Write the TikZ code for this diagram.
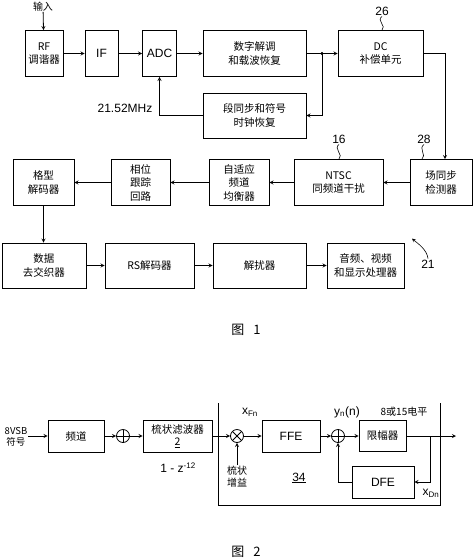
\documentclass[tikz,border=0pt]{standalone}
\usepackage{fontspec}
\setmainfont{Liberation Sans}
\newfontfamily\cjk{Noto Sans CJK SC}
\usetikzlibrary{calc}
\tikzset{
  blk/.style={draw, line width=0.8pt, inner sep=0pt, align=center,
    font=\cjk\fontsize{10.5}{13.5}\selectfont},
  lat/.style={font=\fontsize{12}{14}\selectfont},
  sumnode/.style={draw, circle, line width=0.8pt, minimum size=13pt, inner sep=0pt,
    path picture={\draw[line width=0.8pt] (path picture bounding box.north) -- (path picture bounding box.south)
      (path picture bounding box.west) -- (path picture bounding box.east);}},
  mulnode/.style={draw, circle, line width=0.8pt, minimum size=13pt, inner sep=0pt,
    path picture={\draw[line width=0.8pt] (path picture bounding box.north west) -- (path picture bounding box.south east)
      (path picture bounding box.south west) -- (path picture bounding box.north east);}},
  wire/.style={line width=0.8pt, -stealth},
  lead/.style={line width=0.6pt},
  lbl/.style={inner sep=1pt, font=\fontsize{12}{14}\selectfont},
  zlbl/.style={inner sep=1pt, align=center, font=\cjk\fontsize{10}{12}\selectfont},
}
\newcommand{\Fig}{\cjk\fontsize{13}{15}\selectfont 图}

\begin{document}
\begin{tikzpicture}[x=1pt,y=-1pt]
%\draw[help lines,step=20] (0,0) grid (474,558);
\useasboundingbox (0,0) rectangle (474,558);

%%%%%%%%%%%%%%%%%%%%%%%%%%%%%%%%%%%%%%%%%%%%%%%%%%%%%%%%%%%%%% fig-1
\coordinate (A) at (0,0);

\node[zlbl,inner sep=0.5pt] (inp) at ($(A)+(43,6.5)$) {输入};

\node[blk,minimum width=38,minimum height=46] (rf) at ($(A)+(44,53.5)$) {RF\\调谐器};
\node[blk,lat,minimum width=33,minimum height=46] (ifb) at ($(A)+(101.5,53.5)$) {IF};
\node[blk,lat,minimum width=34,minimum height=46] (adc) at ($(A)+(159.5,53.5)$) {ADC};
\node[blk,minimum width=103,minimum height=46] (demod) at ($(A)+(254.5,53.5)$) {数字解调\\和载波恢复};
\node[blk,minimum width=85,minimum height=46] (dc) at ($(A)+(380.5,53.5)$) {DC\\补偿单元};
\node[blk,minimum width=103,minimum height=45] (sync) at ($(A)+(254.5,115.5)$) {段同步和符号\\时钟恢复};

\node[blk,minimum width=62,minimum height=46] (field) at ($(A)+(441,182.5)$) {场同步\\检测器};
\node[blk,minimum width=89,minimum height=46] (ntsc) at ($(A)+(338.5,182.5)$) {NTSC\\同频道干扰};
\node[blk,minimum width=60,minimum height=46] (adapt) at ($(A)+(239,182.5)$) {自适应\\频道\\均衡器};
\node[blk,minimum width=59,minimum height=46] (phase) at ($(A)+(140.5,182.5)$) {相位\\跟踪\\回路};
\node[blk,minimum width=61,minimum height=46] (trellis) at ($(A)+(43.5,182.5)$) {格型\\解码器};

\node[blk,minimum width=84,minimum height=45] (deint) at ($(A)+(44,265.5)$) {数据\\去交织器};
\node[blk,minimum width=89,minimum height=45] (rs) at ($(A)+(149.5,265.5)$) {RS解码器};
\node[blk,minimum width=93,minimum height=45] (descr) at ($(A)+(259.5,265.5)$) {解扰器};
\node[blk,minimum width=77,minimum height=45] (av) at ($(A)+(365.5,265.5)$) {音频、视频\\和显示处理器};

\coordinate (j1) at ($(A)+(322,53.5)$);

\draw[wire] (inp) -- (rf);
\draw[wire] (rf) -- (ifb);
\draw[wire] (ifb) -- (adc);
\draw[wire] (adc) -- (demod);
\draw[wire] (demod) -- (dc);
\draw[wire] (j1) |- (sync.east);
\draw[wire] (sync.west) -| (adc.south);
\draw[fill=black] (j1) circle (1.3pt);
\draw[wire] (dc.east) -| ($(field.north)+(4,0)$);
\draw[wire] (field) -- (ntsc);
\draw[wire] (ntsc) -- (adapt);
\draw[wire] (adapt) -- (phase);
\draw[wire] (phase) -- (trellis);
\draw[wire] (trellis.south) -- (trellis.south |- deint.north);
\draw[wire] (deint) -- (rs);
\draw[wire] (rs) -- (descr);
\draw[wire] (descr) -- (av);

\node[lbl] (clk) at ($(A)+(125,108)$) {21.52MHz};

\node[lbl] (n26) at ($(A)+(382,11)$) {26};
\draw[lead] (n26.south) .. controls +(-6,4) and +(5,-4) .. (n26.south |- dc.north);
\node[lbl] (n16) at ($(A)+(339,139)$) {16};
\draw[lead] (n16.south) .. controls +(-6,4) and +(5,-4) .. (n16.south |- ntsc.north);
\node[lbl] (n28) at ($(A)+(424,139)$) {28};
\draw[lead] (n28.south) .. controls +(-6,4) and +(5,-4) .. ($(n28.south |- field.north)+(-2,0)$);
\node[lbl] (n21) at ($(A)+(428,264)$) {21};
\draw[lead,-stealth] (n21.north) .. controls +(-1,-9) and +(6,5) .. ($(n21.north)+(-16,-20)$);

\node[inner sep=0pt] (cap1) at ($(A)+(246,330)$) {\Fig\hspace{9pt}\fontsize{13}{15}\selectfont 1};

%%%%%%%%%%%%%%%%%%%%%%%%%%%%%%%%%%%%%%%%%%%%%%%%%%%%%%%%%%%%%% fig-2
\coordinate (A) at (0,400);

\node[zlbl,font=\cjk\fontsize{9.5}{11}\selectfont] (sym) at ($(A)+(16,37)$) {8VSB\\符号};
\node[blk,minimum width=56,minimum height=32] (chan) at ($(A)+(76,36)$) {频道};
\node[sumnode] (sum1) at ($(A)+(123,36)$) {};
\node[blk,minimum width=69,minimum height=32,font=\cjk\fontsize{10.5}{12.5}\selectfont] (comb) at ($(A)+(177.5,36)$) {梳状滤波器\\\underline{2}};
\node[mulnode] (mult) at ($(A)+(237,36)$) {};
\node[blk,lat,minimum width=58,minimum height=32] (ffe) at ($(A)+(291,36)$) {FFE};
\node[sumnode] (sum2) at ($(A)+(338,36)$) {};
\node[blk,minimum width=47,minimum height=31] (lim) at ($(A)+(382.5,36)$) {限幅器};
\node[blk,lat,minimum width=62,minimum height=32] (dfe) at ($(A)+(383,82)$) {DFE};
\node[zlbl] (gain) at ($(A)+(237,77)$) {梳状\\增益};

\coordinate (j2) at ($(A)+(430,36)$);
\coordinate (out) at ($(A)+(456,36)$);
\coordinate (f1) at ($(A)+(218,3)$);
\coordinate (f2) at ($(A)+(440,105)$);
\coordinate (f3) at ($(A)+(440,3)$);

\draw[wire] (chan.west -| sym.east) -- (chan.west);
\draw[wire] (chan) -- (sum1);
\draw[wire] (sum1) -- (comb);
\draw[wire] (comb) -- (mult);
\draw[wire] (mult) -- (ffe);
\draw[wire] (ffe) -- (sum2);
\draw[wire] (sum2) -- (lim);
\draw[wire] (lim) -- (out);
\draw[wire] (j2) |- (dfe.east);
\draw[wire] (dfe.west) -| (sum2.south);
\draw[wire] (gain.north) -- (mult.south);
\draw[line width=0.8pt] (f1) |- (f2) -- (f3);

\node[lbl] (tf) at ($(A)+(178,68)$) {1 - z\textsuperscript{-12}};
\node[lbl] (xf) at ($(A)+(250,12)$) {x\textsubscript{Fn}};
\node[lbl] (yn) at ($(A)+(347,12)$) {y\textsubscript{n}(n)};
\node[zlbl] (lev) at ($(A)+(404,12)$) {8或15电平};
\node[lbl] (n34) at ($(A)+(299,78)$) {\underline{34}};
\node[lbl] (xd) at ($(A)+(431,93)$) {x\textsubscript{Dn}};

\node[inner sep=0pt] (cap2) at ($(A)+(246,152)$) {\Fig\hspace{9pt}\fontsize{13}{15}\selectfont 2};

\end{tikzpicture}
\end{document}
